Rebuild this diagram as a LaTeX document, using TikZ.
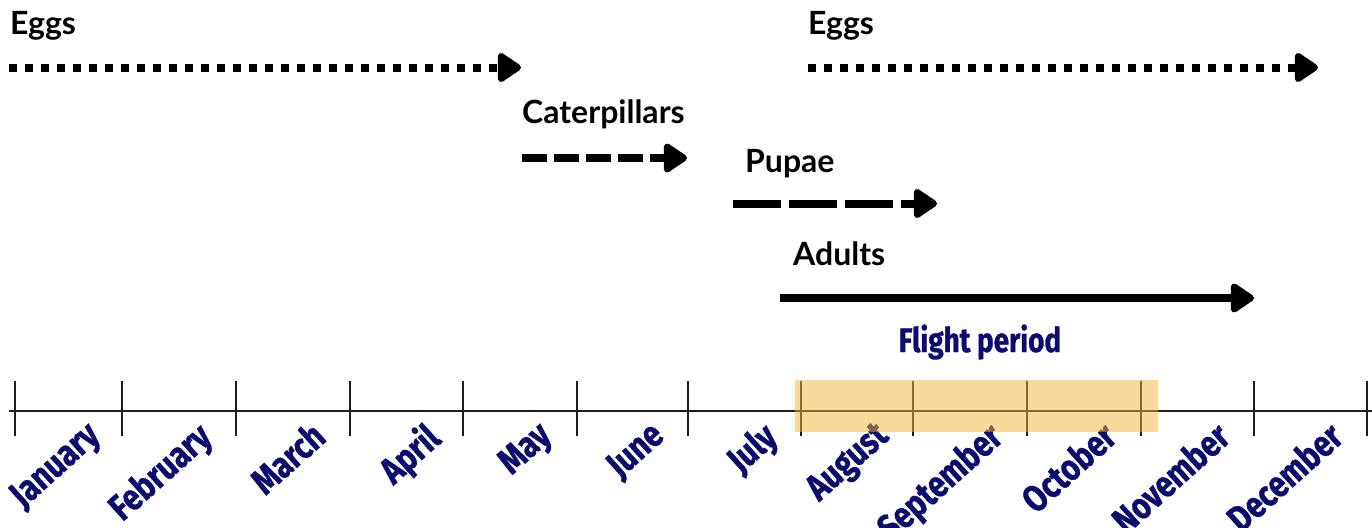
\documentclass[tikz,border=0pt]{standalone}
\usepackage{fontspec}
\usetikzlibrary{arrows.meta}
\newfontfamily\latofont{Lato}
\newfontfamily\monthfont[FakeStretch=0.82,FakeBold=1]{Fira Sans Bold}
\definecolor{navy}{RGB}{12,12,110}
\definecolor{flight}{RGB}{243,181,55}
\definecolor{axisgray}{RGB}{30,30,30}
\begin{document}
\begin{tikzpicture}[x=1pt,y=-1pt,
  stage/.style={font=\latofont\bfseries\fontsize{32}{34}\selectfont, anchor=base west, inner sep=0pt},
  monthtext/.style={font=\monthfont\fontsize{34}{36}\selectfont, text=navy, inner sep=0pt},
  month/.style={monthtext, font=\monthfont\fontsize{37}{38}\selectfont, anchor=north east, rotate=42},
  arr/.style={line width=8pt, -{Triangle[length=26pt,width=33pt,round]}},
  dotline/.style={arr, dash pattern=on 8pt off 8pt},
  shortdash/.style={arr, dash pattern=on 25pt off 7pt},
  longdash/.style={arr, dash pattern=on 48pt off 8pt},
  tickline/.style={line width=2pt, draw=axisgray},
  flightbox/.style={fill=flight, fill opacity=0.5, draw=none}
]
\useasboundingbox (0,0) rectangle (1372,527);

% stage labels
\node[stage] (eggsA) at (10,35) {Eggs};
\node[stage] (eggsB) at (808,35) {Eggs};
\node[stage] (cat) at (522,123) {Caterpillars};
\node[stage] (pup) at (745,172) {Pupae};
\node[stage] (adu) at (793,265) {Adults};

% arrow end points
\coordinate (e1s) at (9,67.5);   \coordinate (e1e) at (521,67.5);
\coordinate (e2s) at (808,67.5); \coordinate (e2e) at (1318,67.5);
\coordinate (cs) at (522,158);   \coordinate (ce) at (687,158);
\coordinate (ps) at (733,203.5); \coordinate (pe) at (937,203.5);
\coordinate (as) at (780,298);   \coordinate (ae) at (1254,298);

\draw[dotline] (e1s) -- (e1e);
\draw[dotline] (e2s) -- (e2e);
\draw[shortdash] (cs) -- (ce);
\draw[longdash] (ps) -- (pe);
\draw[arr] (as) -- (ae);

\node[monthtext, anchor=base] (flight) at (980,352) {Flight period};

% axis
\coordinate (axL) at (9,410.5);
\coordinate (axR) at (1372,410.5);
\draw[tickline] (axL) -- (axR);
\foreach \t in {15,122,236,350,463,577,688,801,913,1027,1141,1254,1367}
  \draw[tickline] (\t,381) -- (\t,436);

% month labels
\foreach \a/\b/\m [count=\i] in {15/122/January,122/236/February,236/350/March,350/463/April,463/577/May,577/688/June,688/801/July,801/913/August,913/1027/September,1027/1141/October,1141/1254/November,1254/1367/December}
  \node[month] (m\i) at ({(\a+\b)/2+16},419) {\m};

% flight period highlight
\path[flightbox] (795,380) rectangle (1158,432);
\end{tikzpicture}
\end{document}
